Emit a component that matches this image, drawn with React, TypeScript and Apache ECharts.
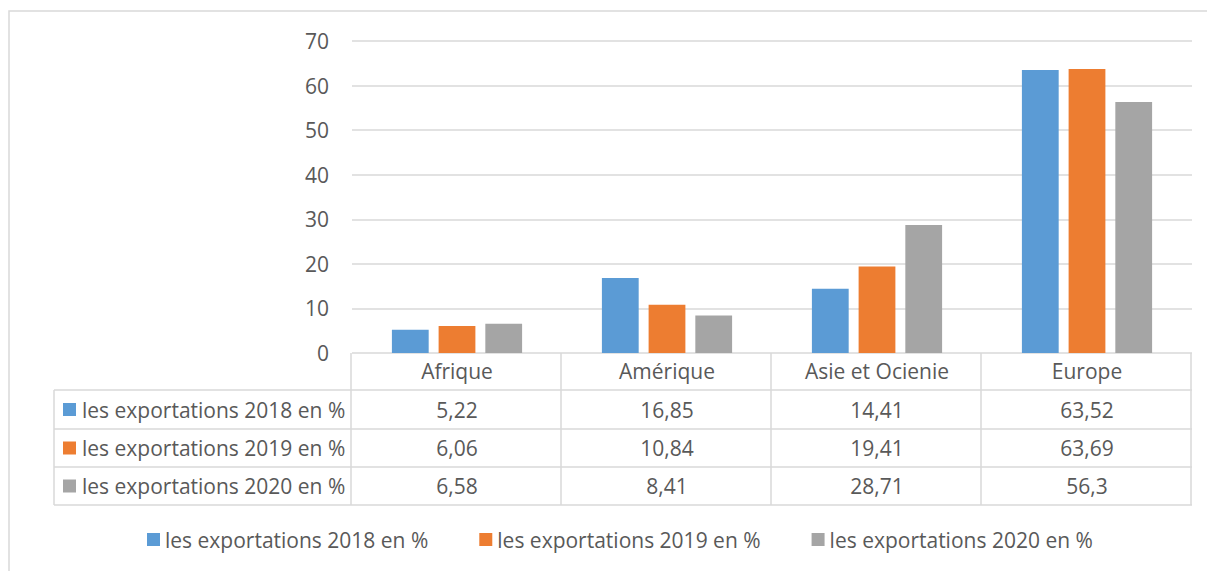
import React, { useEffect, useRef } from "react";
import * as echarts from "echarts";

const categories = ["Afrique", "Amérique", "Asie et Ocienie", "Europe"];
const seriesNames = [
  "les exportations 2018 en %",
  "les exportations 2019 en %",
  "les exportations 2020 en %",
];
const values2018 = [5.22, 16.85, 14.41, 63.52];
const values2019 = [6.06, 10.84, 19.41, 63.69];
const values2020 = [6.58, 8.41, 28.71, 56.3];
const yTicks = [0, 10, 20, 30, 40, 50, 60, 70];

const colors = ["#5B9BD5", "#ED7D31", "#A5A5A5"];
const FONT = "'Open Sans', 'Noto Sans', sans-serif";
const TEXT = "#595959";
const LINE = "#D9D9D9";
const FS = 21;

export default function App() {
  const ref = useRef<HTMLDivElement>(null);
  useEffect(() => {
    document.body.style.margin = "0";
    if (!ref.current) return;
    const chart = echarts.init(ref.current, null, { renderer: "svg" });
    const W = 1207;
    const H = 571;
    const gridLeft = 352;
    const gridRight = 1192;
    const gridTop = 41;
    const gridBottom = 353;
    const data = [values2018, values2019, values2020];

    chart.setOption({
      animation: false,
      textStyle: { fontFamily: FONT },
      grid: {
        left: gridLeft,
        right: W - gridRight,
        top: gridTop,
        bottom: H - gridBottom,
        containLabel: false,
      },
      xAxis: {
        type: "category",
        data: categories,
        axisLine: { show: false },
        axisTick: { show: false },
        axisLabel: {
          margin: 7,
          fontSize: FS,
          lineHeight: 22,
          color: TEXT,
          fontFamily: FONT,
        },
      },
      yAxis: {
        type: "value",
        min: yTicks[0],
        max: yTicks[yTicks.length - 1],
        interval: 10,
        axisLine: { show: false },
        axisTick: { show: false },
        axisLabel: {
          margin: 23,
          fontSize: FS,
          color: TEXT,
          fontFamily: FONT,
        },
        splitLine: { lineStyle: { color: LINE, width: 1.5 } },
      },
      legend: {
        bottom: 16,
        left: 142,
        icon: "rect",
        itemWidth: 13,
        itemHeight: 13,
        itemGap: 51,
        textStyle: { fontSize: FS, color: TEXT, fontFamily: FONT },
        data: seriesNames,
      },
      series: seriesNames.map((name, i) => ({
        name,
        type: "bar",
        data: data[i],
        barCategoryGap: "38%",
        barGap: "27%",
        itemStyle: { color: colors[i] },
      })),
    });

    // Data table under the plot
    const colW = (gridRight - gridLeft) / categories.length;
    const tableLeft = 54;
    const rowTops = [353, 390, 429, 467, 505];
    const g: any[] = [];
    const ls = { stroke: LINE, lineWidth: 1.5 };
    // outer chart border
    g.push({
      type: "rect",
      shape: { x: 9, y: 11, width: 1400, height: 800 },
      style: { fill: "none", stroke: LINE, lineWidth: 1.5 },
      silent: true,
    });
    for (let r = 1; r < rowTops.length; r++) {
      g.push({
        type: "line",
        shape: { x1: tableLeft, y1: rowTops[r], x2: gridRight, y2: rowTops[r] },
        style: ls,
      });
    }
    g.push({
      type: "line",
      shape: { x1: tableLeft, y1: rowTops[1], x2: tableLeft, y2: rowTops[4] },
      style: ls,
    });
    for (let c = 0; c <= categories.length; c++) {
      const x = gridLeft - 1 + c * colW;
      g.push({
        type: "line",
        shape: { x1: x, y1: rowTops[0], x2: x, y2: rowTops[4] },
        style: ls,
      });
    }
    for (let s = 0; s < seriesNames.length; s++) {
      const cy = (rowTops[s + 1] + rowTops[s + 2]) / 2;
      g.push({
        type: "rect",
        shape: { x: 63, y: cy - 6.5, width: 13, height: 13 },
        style: { fill: colors[s] },
      });
      g.push({
        type: "text",
        x: 82,
        y: cy,
        style: {
          text: seriesNames[s],
          fontSize: FS,
          fontFamily: FONT,
          fill: TEXT,
          verticalAlign: "middle",
          align: "left",
        },
      });
      categories.forEach((cat, ci) => {
        const px = chart.convertToPixel({ xAxisIndex: 0 }, cat) as number;
        g.push({
          type: "text",
          x: px,
          y: cy,
          style: {
            text: String(data[s][ci]).replace(".", ","),
            fontSize: FS,
            fontFamily: FONT,
            fill: TEXT,
            verticalAlign: "middle",
            align: "center",
          },
        });
      });
    }
    chart.setOption({ graphic: g });

    return () => chart.dispose();
  }, []);
  return <div ref={ref} style={{ width: 1207, height: 571 }} />;
}
